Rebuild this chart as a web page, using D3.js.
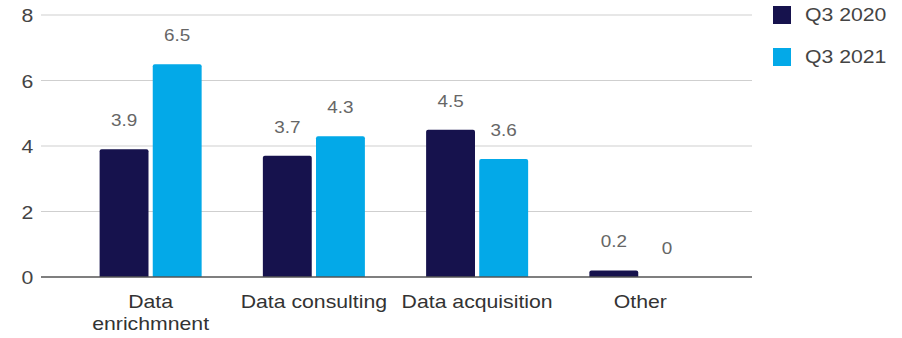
<!DOCTYPE html>
<html>
<head>
<meta charset="utf-8">
<script src="https://cdn.jsdelivr.net/npm/d3@7"></script>
<style>
  html, body { margin: 0; padding: 0; background: #fff; }
  svg { display: block; font-family: "Liberation Sans", Arial, sans-serif; }
</style>
</head>
<body>
<svg id="chart" width="902" height="338"></svg>
<script>
const categories = [["Data", "enrichmnent"], ["Data consulting"], ["Data acquisition"], ["Other"]];
const seriesNames = ["Q3 2020", "Q3 2021"];
const q3_2020 = [3.9, 3.7, 4.5, 0.2];
const q3_2021 = [6.5, 4.3, 3.6, 0];
const yTicks = [0, 2, 4, 6, 8];
const colors = ["#16124d", "#03a9e8"];

// all labels are drawn slightly wide
const SX = 1.18;
const place = (px, py) => `translate(${px},${py}) scale(${SX},1)`;

const svg = d3.select("#chart");
const gridLeft = 41, gridRight = 752;
const x = d3.scaleBand().domain(d3.range(categories.length)).range([69, 722]).paddingInner(0.375).paddingOuter(0.1875);
const x1 = d3.scaleBand().domain([0, 1]).range([0, x.bandwidth()]).paddingInner(0.08);
const y = d3.scaleLinear().domain([0, 8]).range([277, 15]);

// horizontal gridlines
svg.append("g").selectAll("line").data(yTicks.filter(t => t !== 0)).join("line")
  .attr("x1", gridLeft).attr("x2", gridRight)
  .attr("y1", d => y(d)).attr("y2", d => y(d))
  .attr("stroke", "#cfcfcf").attr("stroke-width", 1);

// y tick labels
svg.append("g").selectAll("text").data(yTicks).join("text")
  .attr("transform", d => place(27.5, y(d) + 1))
  .attr("dy", "0.35em")
  .attr("text-anchor", "middle").attr("font-size", 18).attr("fill", "#444")
  .text(d => d);

const series = [q3_2020, q3_2021];
series.forEach((vals, s) => {
  const g = svg.append("g");
  g.selectAll("path").data(vals).join("path")
    .attr("fill", colors[s])
    .attr("d", (d, i) => {
      const bx = x(i) + x1(s), bw = x1.bandwidth();
      const top = y(d), bot = y(0);
      const h = bot - top;
      if (h <= 0) return "";
      const r = Math.min(2, h / 2);
      return `M${bx},${bot}V${top + r}Q${bx},${top} ${bx + r},${top}H${bx + bw - r}Q${bx + bw},${top} ${bx + bw},${top + r}V${bot}Z`;
    });
  g.selectAll("text").data(vals).join("text")
    .attr("transform", (d, i) => place(x(i) + x1(s) + x1.bandwidth() / 2, y(d) - 23))
    .attr("text-anchor", "middle").attr("font-size", 16).attr("fill", "#666")
    .text(d => d);
});

// baseline
svg.append("line")
  .attr("x1", gridLeft).attr("x2", gridRight)
  .attr("y1", y(0)).attr("y2", y(0))
  .attr("stroke", "#555").attr("stroke-width", 1.3);

// category labels
const cat = svg.append("g").selectAll("text").data(categories).join("text")
  .attr("transform", (d, i) => place(x(i) + x.bandwidth() / 2, 308))
  .attr("text-anchor", "middle").attr("font-size", 18).attr("fill", "#333");
cat.selectAll("tspan").data(d => d).join("tspan")
  .attr("x", 0)
  .attr("dy", (d, i) => i === 0 ? 0 : 22)
  .text(d => d);

// legend
const leg = svg.append("g").selectAll("g").data(seriesNames).join("g")
  .attr("transform", (d, i) => `translate(773, ${6 + i * 42})`);
leg.append("rect").attr("width", 18).attr("height", 18).attr("fill", (d, i) => colors[i]);
leg.append("text").attr("transform", place(32, 9)).attr("dy", "0.35em")
  .attr("font-size", 18).attr("fill", "#444").text(d => d);
</script>
</body>
</html>
